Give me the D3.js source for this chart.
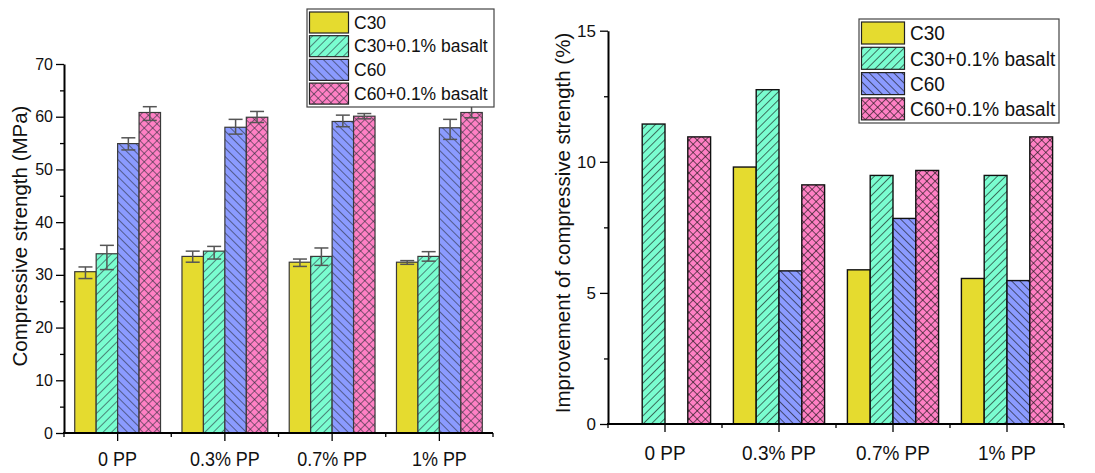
<!DOCTYPE html>
<html>
<head>
<meta charset="utf-8">
<script src="https://cdn.jsdelivr.net/npm/d3@7"></script>
<style>
  html, body { margin: 0; padding: 0; background: #fff; }
  svg { display: block; font-family: "Liberation Sans", Arial, sans-serif; }
</style>
</head>
<body>
<svg id="chart" width="1095" height="473"></svg>
<script>
// Mix groups (polypropylene fibre dosage) and concrete series
const categories = ["0 PP", "0.3% PP", "0.7% PP", "1% PP"];
const seriesNames = ["C30", "C30+0.1% basalt", "C60", "C60+0.1% basalt"];

// Compressive strength (MPa), one array per series, ordered like categories
const strengthC30   = [30.6, 33.5, 32.4, 32.4];
const strengthC30B  = [34.0, 34.5, 33.5, 33.5];
const strengthC60   = [54.9, 58.0, 59.1, 57.9];
const strengthC60B  = [60.8, 59.9, 60.1, 60.8];

// Error bar ends (MPa)
const highC30  = [31.5, 34.5, 33.0, 32.7];
const lowC30   = [29.3, 32.4, 31.6, 32.0];
const highC30B = [35.6, 35.4, 35.1, 34.4];
const lowC30B  = [31.0, 33.0, 31.8, 32.6];
const highC60  = [56.0, 59.5, 60.3, 59.5];
const lowC60   = [53.7, 56.7, 58.1, 55.7];
const highC60B = [61.9, 61.0, 60.6, 62.0];
const lowC60B  = [59.3, 58.9, 59.6, 59.8];

// Improvement of compressive strength (%)
const gainC30  = [0, 9.80, 5.88, 5.55];
const gainC30B = [11.44, 12.75, 9.48, 9.48];
const gainC60  = [0, 5.84, 7.84, 5.47];
const gainC60B = [10.95, 9.12, 9.67, 10.95];

const strengthTicks = [0, 10, 20, 30, 40, 50, 60, 70];
const gainTicks = [0, 5, 10, 15];

const strengthSeries = [strengthC30, strengthC30B, strengthC60, strengthC60B];
const highSeries = [highC30, highC30B, highC60, highC60B];
const lowSeries = [lowC30, lowC30B, lowC60, lowC60B];
const gainSeries = [gainC30, gainC30B, gainC60, gainC60B];

const fills = ["#e5db2f", "#7afdd0", "#8b9bff", "#ff80c4"];
const hatch = [null, "fwd", "back", "cross"];

const svg = d3.select("#chart");
const defs = svg.append("defs");

// Hatch patterns: "/" lines, "\" lines and a diagonal cross-hatch
function makePattern(id, bg, kind, step, lineColor, lw) {
  const p = defs.append("pattern")
    .attr("id", id)
    .attr("patternUnits", "userSpaceOnUse")
    .attr("width", step).attr("height", step)
    .attr("patternTransform", `rotate(${kind === "back" ? -45 : 45})`);
  p.append("rect").attr("width", step).attr("height", step).attr("fill", bg);
  p.append("line").attr("x1", 0).attr("y1", 0).attr("x2", 0).attr("y2", step)
    .attr("stroke", lineColor).attr("stroke-width", lw);
  if (kind === "cross") {
    p.append("line").attr("x1", 0).attr("y1", 0).attr("x2", step).attr("y2", 0)
      .attr("stroke", lineColor).attr("stroke-width", lw);
  }
}
function fillFor(i, prefix) {
  return hatch[i] ? `url(#${prefix}${i})` : fills[i];
}
[["L", "#262a36", 6, 1.15], ["R", "#111", 5.8, 1.2]].forEach(([prefix, col, step, lw]) => {
  hatch.forEach((h, i) => { if (h) makePattern(prefix + i, fills[i], h, step, col, lw); });
});

function drawPanel(opt) {
  const g = svg.append("g");
  const x = d3.scaleBand().domain(categories).range(opt.xRange).paddingInner(0).paddingOuter(0);
  const xs = d3.scaleBand().domain(d3.range(seriesNames.length)).range([0, x.bandwidth()]).paddingOuter(0.5).paddingInner(0);
  const y = d3.scaleLinear().domain(opt.yDomain).range(opt.yRange);

  // Bars
  opt.values.forEach((vals, si) => {
    g.append("g").selectAll("rect")
      .data(categories.map((c, ci) => ({ c, v: vals[ci] })).filter(d => d.v > 0))
      .join("rect")
      .attr("x", d => x(d.c) + xs(si))
      .attr("y", d => y(d.v))
      .attr("width", xs.bandwidth())
      .attr("height", d => y(0) - y(d.v))
      .attr("fill", fillFor(si, opt.prefix))
      .attr("stroke", opt.barStroke)
      .attr("stroke-width", opt.barStrokeWidth);
  });

  // Error bars
  if (opt.high) {
    opt.high.forEach((hv, si) => {
      const lv = opt.low[si];
      const eg = g.append("g").attr("stroke", "#555").attr("stroke-width", 1.5).attr("fill", "none");
      categories.forEach((c, ci) => {
        const cx = x(c) + xs(si) + xs.bandwidth() / 2;
        const yt = y(hv[ci]), yb = y(lv[ci]);
        eg.append("line").attr("x1", cx).attr("x2", cx).attr("y1", yt).attr("y2", yb);
        eg.append("line").attr("x1", cx - 7).attr("x2", cx + 7).attr("y1", yt).attr("y2", yt);
        eg.append("line").attr("x1", cx - 7).attr("x2", cx + 7).attr("y1", yb).attr("y2", yb);
      });
    });
  }

  // Y axis: labelled major ticks plus unlabelled minor ticks halfway
  const minor = opt.yTicks.slice(1).map((t, i) => (t + opt.yTicks[i]) / 2);
  g.append("g").attr("transform", `translate(${opt.xRange[0]},0)`)
    .call(d3.axisLeft(y).tickValues(minor).tickSize(4).tickFormat(""))
    .call(a => a.select(".domain").remove())
    .call(a => a.selectAll("line").attr("stroke", "#000").attr("stroke-width", 1.3));
  const ya = g.append("g").attr("transform", `translate(${opt.xRange[0]},0)`)
    .call(d3.axisLeft(y).tickValues(opt.yTicks).tickSize(8).tickSizeOuter(0).tickPadding(opt.yPad).tickFormat(d3.format("d")));
  ya.select(".domain").attr("stroke", "#000").attr("stroke-width", 2);
  ya.selectAll("line").attr("stroke", "#000").attr("stroke-width", 1.3);
  ya.selectAll("text").attr("font-size", opt.yTickFont).attr("fill", "#111")
    .attr("font-family", "Liberation Sans, Arial, sans-serif");

  // X axis: major ticks at group centres, minor ticks at group borders
  const xa = g.append("g").attr("transform", `translate(0,${opt.yRange[0]})`);
  const borders = d3.range(categories.length + 1).map(i => opt.xRange[0] + i * x.step());
  xa.append("path")
    .attr("d", `M${opt.xRange[0] - 1},0H${opt.xRange[1]}`)
    .attr("stroke", "#000").attr("stroke-width", 2);
  xa.selectAll(".minor").data(borders).join("line").attr("class", "minor")
    .attr("x1", d => d).attr("x2", d => d).attr("y1", 0).attr("y2", 4)
    .attr("stroke", "#000").attr("stroke-width", 1.3);
  xa.selectAll(".major").data(categories).join("line").attr("class", "major")
    .attr("x1", d => x(d) + x.bandwidth() / 2).attr("x2", d => x(d) + x.bandwidth() / 2)
    .attr("y1", 0).attr("y2", 8)
    .attr("stroke", "#000").attr("stroke-width", 1.3);
  xa.selectAll(".lab").data(categories).join("text").attr("class", "lab")
    .attr("transform", d => `translate(${x(d) + x.bandwidth() / 2},${opt.xLabelY}) scale(1,1.08)`)
    .attr("text-anchor", "middle")
    .attr("font-size", opt.xTickFont)
    .attr("fill", "#111")
    .text(d => d);

  // Axis title
  g.append("text")
    .attr("transform", `translate(${opt.titleX},${opt.titleY}) rotate(-90)`)
    .attr("text-anchor", "middle")
    .attr("dominant-baseline", "central")
    .attr("font-size", opt.titleFont)
    .attr("fill", "#111")
    .text(opt.title);

  // Legend
  const lg = g.append("g");
  const L = opt.legend;
  lg.append("rect")
    .attr("x", L.x).attr("y", L.y).attr("width", L.w).attr("height", L.h)
    .attr("fill", "#fff").attr("stroke", "#444").attr("stroke-width", 1.2);
  seriesNames.forEach((name, i) => {
    const ry = L.y + L.first + i * L.step;
    lg.append("rect")
      .attr("x", L.x + 2.5).attr("y", ry)
      .attr("width", L.sw).attr("height", L.sh)
      .attr("fill", fillFor(i, opt.prefix))
      .attr("stroke", "#222").attr("stroke-width", 1.2);
    lg.append("text")
      .attr("transform", `translate(${L.x + L.textDx},${ry + L.sh / 2}) scale(1,1.08)`)
      .attr("dominant-baseline", "central")
      .attr("font-size", L.font)
      .attr("fill", "#111")
      .text(name);
  });
}

drawPanel({
  prefix: "L",
  values: strengthSeries,
  high: highSeries,
  low: lowSeries,
  xRange: [64, 493],
  yDomain: [0, 70],
  yRange: [433, 64],
  yTicks: strengthTicks,
  yPad: 3,
  yTickFont: 16,
  xTickFont: 18,
  xLabelY: 33,
  barStroke: "#3a3a3a",
  barStrokeWidth: 1.2,
  title: "Compressive strength (MPa)",
  titleX: 19, titleY: 236, titleFont: 20.5,
  legend: { x: 307, y: 9, w: 187, h: 98, first: 3, step: 23.7, sw: 39, sh: 21, textDx: 47, font: 17.5 }
});

drawPanel({
  prefix: "R",
  values: gainSeries,
  xRange: [608, 1064],
  yDomain: [0, 15],
  yRange: [424, 30.7],
  yTicks: gainTicks,
  yPad: 4,
  yTickFont: 17,
  xTickFont: 19,
  xLabelY: 36,
  barStroke: "#111",
  barStrokeWidth: 1.4,
  title: "Improvement of compressive strength (%)",
  titleX: 562, titleY: 223, titleFont: 20.5,
  legend: { x: 859, y: 19, w: 200, h: 104, first: 3, step: 25.3, sw: 43, sh: 22, textDx: 51, font: 19 }
});
</script>
</body>
</html>
